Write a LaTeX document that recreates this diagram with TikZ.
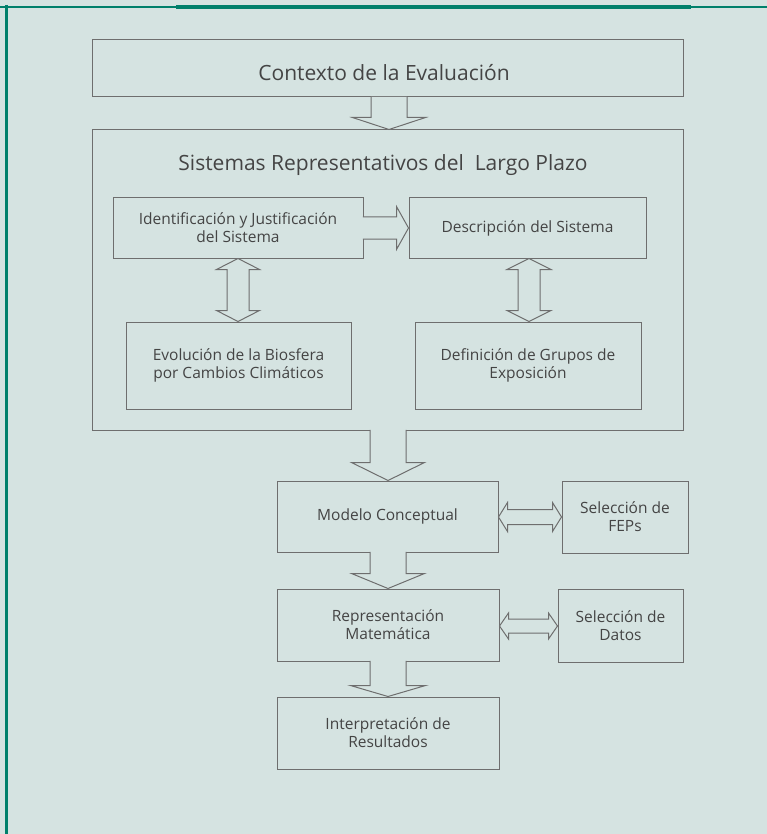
\documentclass[tikz,border=0pt]{standalone}
\usepackage{fontspec}
\setmainfont{Open Sans}
\usetikzlibrary{calc}
\definecolor{bg}{HTML}{D5E3E1}
\definecolor{grn}{HTML}{00806B}
\definecolor{edge}{HTML}{6E6E6E}
\definecolor{txt}{HTML}{444444}
\newcommand{\DnArrow}[6]{% from, to, x-center, stem half, wing half, head length
  \coordinate (cx) at (#3,0);
  \filldraw[blk] ($(cx |- #1.south)+(-#4,-0.6)$) -- ($(cx |- #2.north)+(-#4,-#6)$) -- ($(cx |- #2.north)+(-#5,-#6)$) -- (cx |- #2.north) -- ($(cx |- #2.north)+(#5,-#6)$) -- ($(cx |- #2.north)+(#4,-#6)$) -- ($(cx |- #1.south)+(#4,-0.6)$);
}
\newcommand{\RtArrow}[6]{% from, to, y-center, stem half, wing half, head length
  \coordinate (cy) at (0,#3);
  \filldraw[blk] ($(cy -| #1.east)+(-0.6,-#4)$) -- ($(cy -| #2.west)+(-#6,-#4)$) -- ($(cy -| #2.west)+(-#6,-#5)$) -- (cy -| #2.west) -- ($(cy -| #2.west)+(-#6,#5)$) -- ($(cy -| #2.west)+(-#6,#4)$) -- ($(cy -| #1.east)+(-0.6,#4)$);
}
\newcommand{\VDbl}[6]{% upper, lower, x-center, shaft half, wing half, head length
  \coordinate (cx) at (#3,0);
  \filldraw[blk] (cx |- #1.south) -- ($(cx |- #1.south)+(#5,#6)$) -- ($(cx |- #1.south)+(#4,#6)$) -- ($(cx |- #2.north)+(#4,-#6)$) -- ($(cx |- #2.north)+(#5,-#6)$) -- (cx |- #2.north) -- ($(cx |- #2.north)+(-#5,-#6)$) -- ($(cx |- #2.north)+(-#4,-#6)$) -- ($(cx |- #1.south)+(-#4,#6)$) -- ($(cx |- #1.south)+(-#5,#6)$) -- cycle;
}
\newcommand{\HDbl}[6]{% left, right, y-center, shaft half, wing half, head length
  \coordinate (cy) at (0,#3);
  \filldraw[blk] (cy -| #1.east) -- ($(cy -| #1.east)+(#6,-#5)$) -- ($(cy -| #1.east)+(#6,-#4)$) -- ($(cy -| #2.west)+(-#6,-#4)$) -- ($(cy -| #2.west)+(-#6,-#5)$) -- (cy -| #2.west) -- ($(cy -| #2.west)+(-#6,#5)$) -- ($(cy -| #2.west)+(-#6,#4)$) -- ($(cy -| #1.east)+(#6,#4)$) -- ($(cy -| #1.east)+(#6,#5)$) -- cycle;
}
\begin{document}
\begin{tikzpicture}[x=1pt,y=-1pt,
  box/.style={draw=edge, line width=1pt, fill=bg, inner sep=0pt, text=txt, align=center, font=\fontsize{15.5}{18}\selectfont},
  bigtxt/.style={font=\fontsize{21}{24}\selectfont},
  blk/.style={draw=edge, fill=bg, line width=1pt, line join=miter}]
\useasboundingbox (0,0) rectangle (767,834);
\fill[bg] (0,0) rectangle (767,834);
% green frame
\draw[grn, line width=2pt] (0,6.7) -- (767,6.7);
\draw[grn, line width=4pt] (176,7) -- (691,7);
\draw[grn, line width=3.5pt] (6.5,5) -- (6.5,834);
% boxes
\node[box, minimum width=591pt, minimum height=57pt] (ctx) at (387.5,68.5) {};
\node[text=txt, bigtxt, inner sep=0pt] (ctxtxt) at (384,73) {Contexto de la Evaluación};
\node[box, minimum width=591pt, minimum height=300pt] (sis) at (387.5,280) {};
\node[text=txt, bigtxt, inner sep=0pt] (sistitle) at (383,165) {Sistemas Representativos del\ \ Largo Plazo};
\node[box, minimum width=250pt, minimum height=60pt] (idj) at (238,228) {Identificación y Justificación\\del Sistema};
\node[box, minimum width=237pt, minimum height=60pt] (desc) at (527.5,228) {Descripción del Sistema};
\node[box, minimum width=225pt, minimum height=87pt] (evo) at (238.5,365.5) {Evolución de la Biosfera\\por Cambios Climáticos};
\node[box, minimum width=226pt, minimum height=87pt] (def) at (528,365.5) {Definición de Grupos de\\Exposición};
\node[box, minimum width=221pt, minimum height=71pt] (mod) at (387.5,516.5) {Modelo Conceptual};
\node[box, minimum width=126pt, minimum height=72pt] (fep) at (625,517) {Selección de\\FEPs};
\node[box, minimum width=222pt, minimum height=72pt] (rep) at (388,625) {Representación\\Matemática};
\node[box, minimum width=125pt, minimum height=73pt] (dat) at (620.5,625.5) {Selección de\\Datos};
\node[box, minimum width=222pt, minimum height=72pt] (int) at (388,733) {Interpretación de\\Resultados};
% block arrows
\DnArrow{ctx}{sis}{389}{18}{36.5}{12}
\DnArrow{sis}{mod}{388}{18}{36.5}{18}
\DnArrow{mod}{rep}{388}{18}{36.5}{15}
\DnArrow{rep}{int}{388}{18}{37.5}{11}
\RtArrow{idj}{desc}{228}{11}{21.5}{12}
\VDbl{idj}{evo}{238}{11}{21.5}{11}
\VDbl{desc}{def}{529}{11}{22}{11}
\HDbl{mod}{fep}{517}{7.5}{14.5}{9}
\HDbl{rep}{dat}{626}{7}{13}{9}
\end{tikzpicture}
\end{document}
